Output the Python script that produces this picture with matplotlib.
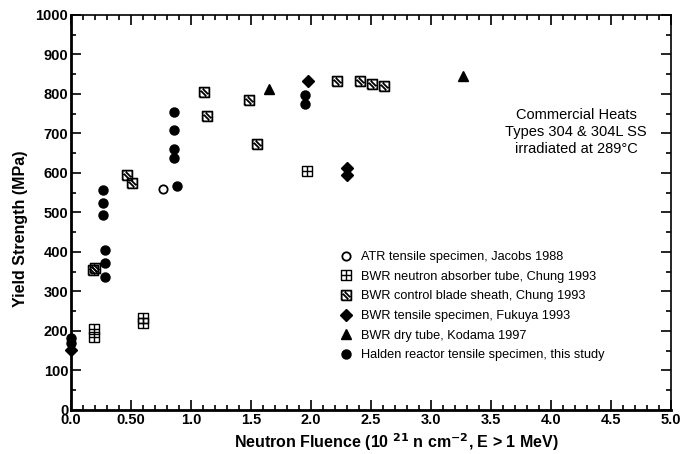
import matplotlib
matplotlib.use("Agg")
import matplotlib.pyplot as plt
from matplotlib.path import Path
from matplotlib.ticker import MultipleLocator, FixedLocator

plt.rcParams['font.family'] = ['Liberation Sans', 'DejaVu Sans']

# ATR tensile specimen, Jacobs 1988
atr_x = [0.77]
atr_y = [560]
# BWR neutron absorber tube, Chung 1993
nat_x = [0.19, 0.19, 0.60, 0.60, 1.97]
nat_y = [206, 184, 232, 220, 606]
# BWR control blade sheath, Chung 1993
cbs_x = [0.18, 0.20, 0.47, 0.51, 1.11, 1.13, 1.48, 1.55, 2.22, 2.41, 2.51, 2.61]
cbs_y = [354, 359, 595, 574, 806, 743, 785, 673, 832, 832, 825, 819]
# BWR tensile specimen, Fukuya 1993
fuk_x = [0.0, 1.98, 2.30, 2.30]
fuk_y = [152, 832, 613, 596]
# BWR dry tube, Kodama 1997
kod_x = [1.65, 3.27]
kod_y = [812, 845]
# Halden reactor tensile specimen, this study
hal_x = [0.0, 0.0, 0.27, 0.27, 0.27, 0.28, 0.28, 0.28,
         0.86, 0.86, 0.86, 0.86, 0.88, 1.95, 1.95]
hal_y = [181, 169, 557, 525, 493, 405, 371, 337,
         754, 710, 660, 637, 567, 798, 774]

labels = [
    "ATR tensile specimen, Jacobs 1988",
    "BWR neutron absorber tube, Chung 1993",
    "BWR control blade sheath, Chung 1993",
    "BWR tensile specimen, Fukuya 1993",
    "BWR dry tube, Kodama 1997",
    "Halden reactor tensile specimen, this study",
]

# square with a cross inside
sq = [(-1, -1), (1, -1), (1, 1), (-1, 1), (-1, -1)]
box_plus = Path(sq + [(0, -1), (0, 1), (-1, 0), (1, 0)],
                [Path.MOVETO] + [Path.LINETO] * 4 +
                [Path.MOVETO, Path.LINETO, Path.MOVETO, Path.LINETO])
# square with a double diagonal stripe
box_hatch = Path(sq + [(-0.75, 0.35), (0.35, -0.75), (-0.35, 0.75), (0.75, -0.35)],
                 [Path.MOVETO] + [Path.LINETO] * 4 +
                 [Path.MOVETO, Path.LINETO, Path.MOVETO, Path.LINETO])

fig = plt.figure(figsize=(6.8, 4.54), dpi=100)
ax = fig.add_axes([0.1044, 0.097, 0.882, 0.870])

kw = dict(linestyle='none', clip_on=False, color='black')
ax.plot(atr_x, atr_y, marker='o', markersize=6, markerfacecolor='white',
        markeredgewidth=1.3, label=labels[0], **kw)
ax.plot(nat_x, nat_y, marker=box_plus, markersize=7, markerfacecolor='none',
        markeredgewidth=1.0, label=labels[1], **kw)
ax.plot(cbs_x, cbs_y, marker=box_hatch, markersize=7, markerfacecolor='none',
        markeredgewidth=1.3, label=labels[2], **kw)
ax.plot(fuk_x, fuk_y, marker='D', markersize=6.5, label=labels[3], **kw)
ax.plot(kod_x, kod_y, marker='^', markersize=6.5, label=labels[4], **kw)
ax.plot(hal_x, hal_y, marker='o', markersize=6.5, label=labels[5], **kw)

ax.set_xlim(0, 5.0)
ax.set_ylim(0, 1000)
ax.xaxis.set_major_locator(FixedLocator([0, 0.5, 1.0, 1.5, 2.0, 2.5, 3.0, 3.5, 4.0, 4.5, 5.0]))
ax.set_xticklabels(["0.0", "0.50", "1.0", "1.5", "2.0", "2.5", "3.0", "3.5", "4.0", "4.5", "5.0"])
ax.xaxis.set_minor_locator(MultipleLocator(0.1))
ax.yaxis.set_major_locator(MultipleLocator(100))
ax.yaxis.set_minor_locator(MultipleLocator(50))
ax.tick_params(which='both', direction='in', top=True, right=True,
               labelsize=10.5, width=1.2, pad=2)
ax.tick_params(which='major', length=7)
ax.tick_params(which='minor', length=3.5)
for lab in ax.get_xticklabels() + ax.get_yticklabels():
    lab.set_fontweight('bold')
for s in ['left', 'bottom']:
    ax.spines[s].set_linewidth(2.0)
for s in ['top', 'right']:
    ax.spines[s].set_linewidth(1.2)

ax.set_xlabel("Neutron Fluence (10 $^{\\mathbf{21}}$ n cm$^{\\mathbf{-2}}$, E > 1 MeV)",
              fontsize=11.5, fontweight='bold')
ax.xaxis.set_label_coords(0.543, -0.055)
ax.set_ylabel("Yield Strength (MPa)", fontsize=11.5, fontweight='bold')
ax.yaxis.set_label_coords(-0.072, 0.46)

ax.text(4.21, 704, "Commercial Heats\nTypes 304 & 304L SS\nirradiated at 289°C",
        ha='center', va='center', fontsize=10.5, linespacing=1.3)

ax.legend(loc='lower left', bbox_to_anchor=(0.428, 0.11), frameon=False,
          fontsize=9.2, handletextpad=0.2, labelspacing=0.6, borderaxespad=0)

fig.savefig("out.png", dpi=100)
